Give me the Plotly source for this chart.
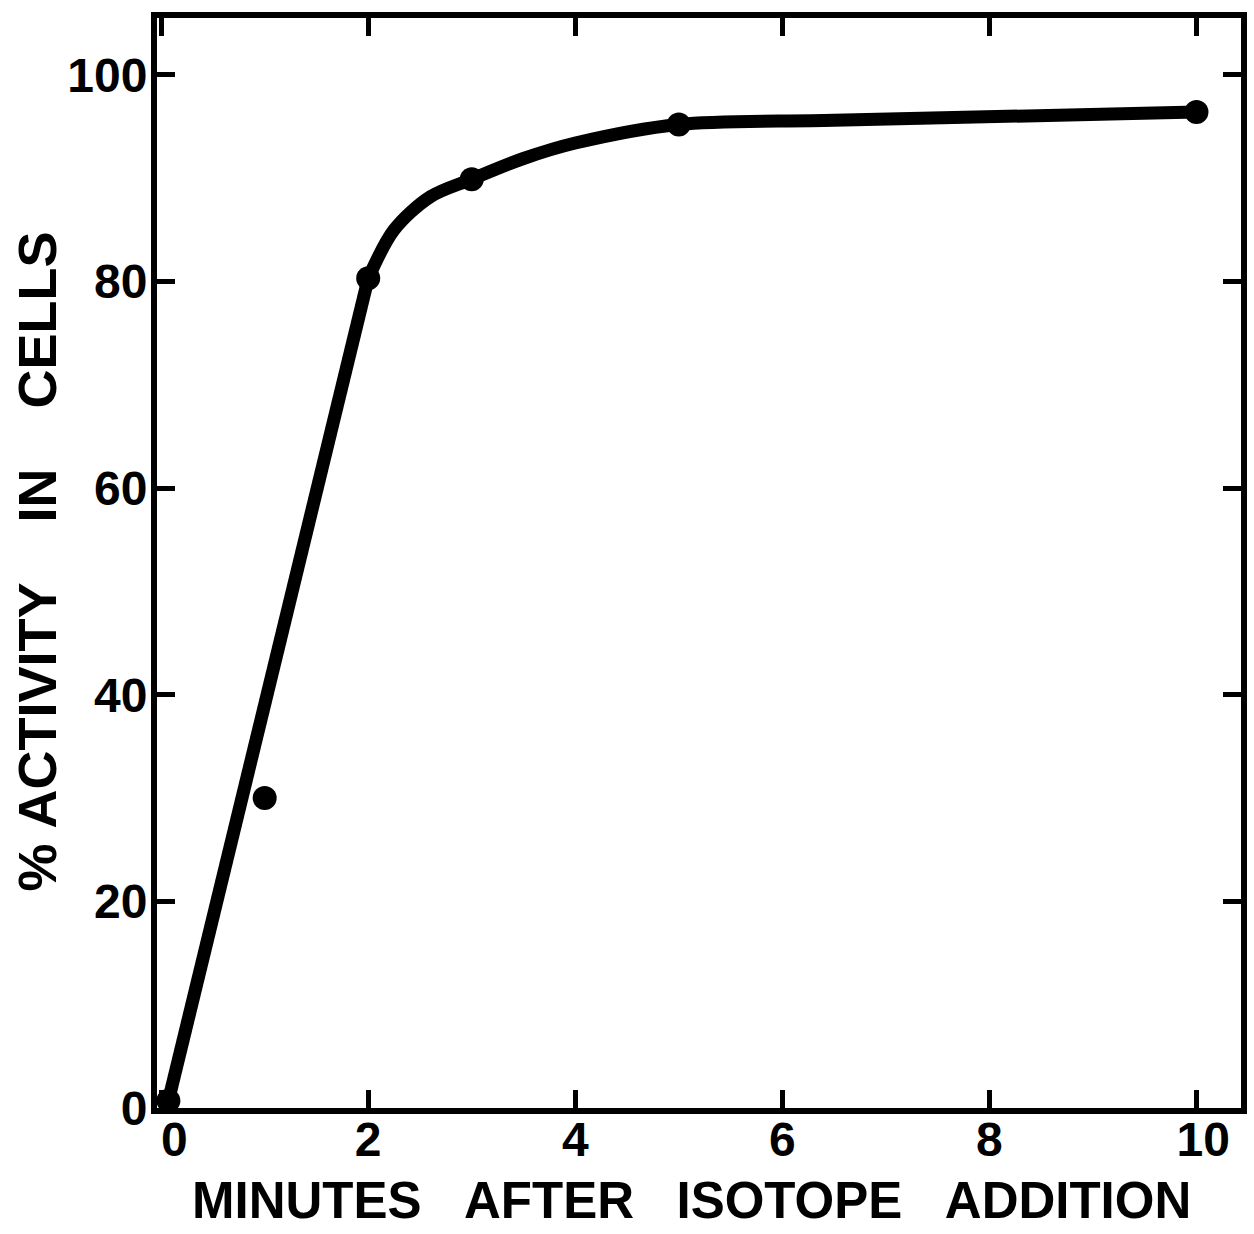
import plotly.graph_objects as go

# Measured uptake of isotope by cells
minutes = [0.07, 1.0, 2.0, 3.0, 5.0, 10.0]
activity = [0.7, 30.0, 80.3, 89.9, 95.2, 96.4]

# Hand-drawn trend: straight rise, then a smooth approach to the plateau
rise_x = [0.07, 2.0]
rise_y = [0.7, 80.3]
plateau_x = [2.0, 2.25, 2.6, 3.0, 3.5, 4.0, 5.0, 6.5, 10.0]
plateau_y = [80.3, 85.0, 88.2, 89.9, 91.9, 93.4, 95.2, 95.6, 96.4]

x_ticks = [0, 2, 4, 6, 8, 10]
x_ticktext = ["\u00a0\u00a00", "2", "4", "6", "8", "\u00a010"]
y_ticks = [0, 20, 40, 60, 80, 100]

FONT = "Liberation Sans, Arial, sans-serif"

fig = go.Figure()

fig.add_trace(go.Scatter(
    x=rise_x, y=rise_y, mode="lines",
    line=dict(color="black", width=13),
    hoverinfo="skip", showlegend=False,
))
fig.add_trace(go.Scatter(
    x=plateau_x, y=plateau_y, mode="lines",
    line=dict(color="black", width=13, shape="spline", smoothing=0.9),
    hoverinfo="skip", showlegend=False,
))
fig.add_trace(go.Scatter(
    x=minutes, y=activity, mode="markers",
    marker=dict(color="black", size=24, line=dict(width=0)),
    showlegend=False, cliponaxis=False,
))

axis_common = dict(
    showline=True, linewidth=6, linecolor="black", mirror="ticks",
    ticks="inside", ticklen=18, tickwidth=5, tickcolor="black",
    showgrid=False, zeroline=False,
    tickfont=dict(family=FONT, size=48, color="black", weight="bold"),
)

fig.update_xaxes(
    range=[-0.04, 10.43], tickvals=x_ticks,
    ticktext=x_ticktext, ticklabelstandoff=-16,
    **axis_common,
)
fig.update_yaxes(
    range=[0, 105.5], tickvals=y_ticks,
    ticktext=[str(v) for v in y_ticks], ticklabelstandoff=-6,
    **axis_common,
)

title_font = dict(family=FONT, size=51, color="black", weight="bold")
gap = "\u00a0\u00a0\u00a0"
fig.add_annotation(
    text=gap.join(["MINUTES", "AFTER", "ISOTOPE", "ADDITION"]),
    xref="paper", yref="paper", x=0.493, y=-0.085,
    xanchor="center", yanchor="middle", showarrow=False, font=title_font,
)
fig.add_annotation(
    text="%\u00a0" + "\u00a0\u00a0\u00a0\u00a0".join(["ACTIVITY", "IN", "CELLS"]),
    xref="paper", yref="paper", x=-0.111, y=0.501,
    xanchor="center", yanchor="middle", showarrow=False, textangle=-90,
    font=dict(family=FONT, size=54, color="black", weight="bold"),
)

fig.update_layout(
    width=1254, height=1234,
    margin=dict(l=157, r=7, t=18, b=126),
    paper_bgcolor="white", plot_bgcolor="white",
)

fig.write_html("out.html")
